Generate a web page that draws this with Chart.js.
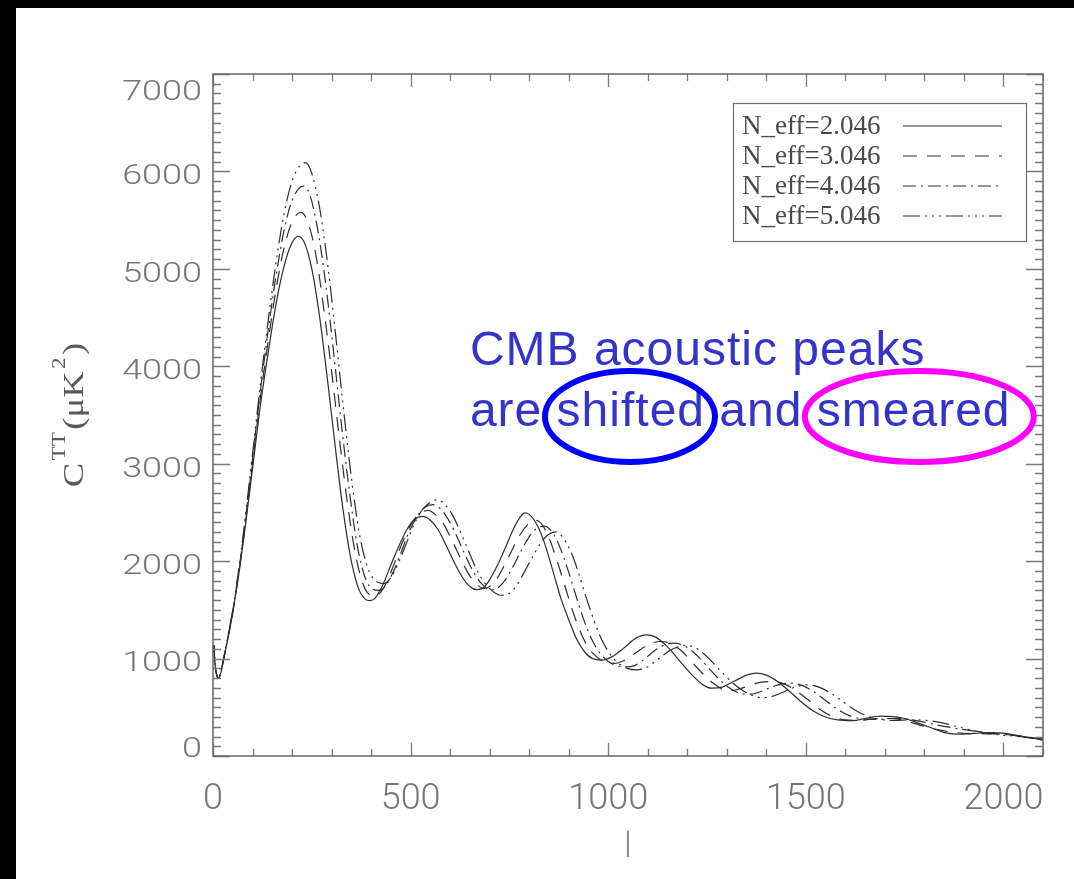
<!DOCTYPE html>
<html>
<head>
<meta charset="utf-8">
<title>CMB TT spectrum vs N_eff</title>
<script src="https://cdn.jsdelivr.net/npm/chart.js@4.4.1/dist/chart.umd.min.js"></script>
<style>
  html, body { margin: 0; padding: 0; width: 1074px; height: 879px; overflow: hidden; background: #000; }
  #wrap { position: absolute; left: 16px; top: 8px; width: 1058px; height: 871px; background: #fff; }
  canvas { display: block; }
</style>
</head>
<body>
<div id="wrap"><canvas id="cmb" width="1058" height="871"></canvas></div>
<script>
// Multipole l and C_l^TT (uK^2) for each effective neutrino number.
const nEff2046 = [[2,1140],[5,950],[10,820],[14,800],[20,860],[30,1050],[40,1250],[50,1470],[68,1940],[80,2300],[100,2950],[120,3600],[140,4150],[160,4650],[180,5030],[200,5270],[215,5334],[230,5280],[250,5000],[270,4500],[290,3850],[310,3150],[330,2500],[350,2000],[370,1700],[385,1610],[397,1595],[410,1620],[430,1760],[450,1960],[470,2150],[490,2320],[510,2430],[531,2460],[550,2420],[570,2320],[590,2160],[610,1990],[630,1840],[650,1740],[667,1707],[685,1730],[700,1810],[720,1960],[740,2140],[760,2330],[775,2440],[789,2495],[800,2480],[820,2370],[840,2170],[860,1900],[880,1620],[900,1400],[920,1200],[940,1070],[960,1000],[985,985],[1010,1020],[1040,1110],[1070,1210],[1097,1244],[1120,1220],[1150,1120],[1180,980],[1210,840],[1240,730],[1261,696],[1290,710],[1320,770],[1350,830],[1375,850],[1400,830],[1430,760],[1460,660],[1490,550],[1520,460],[1550,400],[1580,370],[1619,363],[1650,385],[1690,410],[1720,405],[1750,385],[1790,330],[1820,285],[1850,240],[1880,225],[1910,228],[1940,236],[1970,240],[2000,235],[2030,215],[2060,195],[2100,175]];
const nEff3046 = [[2,1140],[5,950],[10,820],[14,800],[20,860],[30,1055],[40,1260],[50,1480],[68,1960],[80,2330],[100,3000],[120,3680],[140,4270],[160,4800],[180,5220],[200,5480],[222,5580],[240,5480],[260,5150],[280,4600],[300,3950],[320,3250],[340,2600],[360,2080],[380,1760],[395,1660],[409,1645],[422,1670],[440,1790],[460,1990],[480,2200],[500,2370],[520,2480],[545,2520],[565,2470],[585,2370],[605,2210],[625,2040],[645,1880],[665,1770],[685,1720],[700,1740],[715,1800],[735,1940],[755,2100],[775,2260],[795,2370],[813,2420],[830,2390],[850,2240],[870,2010],[890,1750],[910,1490],[930,1270],[950,1110],[970,1020],[990,970],[1015,950],[1040,980],[1070,1060],[1100,1140],[1130,1175],[1155,1160],[1185,1080],[1215,950],[1245,820],[1275,720],[1299,670],[1325,680],[1355,720],[1385,755],[1416,765],[1445,740],[1475,670],[1505,580],[1535,480],[1565,410],[1600,370],[1640,365],[1680,385],[1720,385],[1760,350],[1800,305],[1840,265],[1880,240],[1920,230],[1960,228],[2000,222],[2040,205],[2070,185],[2100,165]];
const nEff4046 = [[2,1140],[5,950],[10,820],[14,800],[20,865],[30,1060],[40,1270],[50,1490],[68,1980],[80,2360],[100,3050],[120,3750],[140,4380],[160,4940],[180,5400],[200,5700],[228,5850],[245,5760],[265,5400],[285,4850],[305,4150],[325,3400],[345,2720],[365,2160],[385,1830],[405,1710],[421,1700],[435,1740],[455,1880],[475,2080],[495,2290],[515,2450],[535,2550],[556,2580],[575,2540],[595,2430],[615,2270],[635,2090],[655,1920],[675,1790],[690,1730],[707,1705],[722,1730],[740,1810],[760,1950],[780,2110],[800,2250],[820,2340],[838,2360],[858,2300],[878,2140],[898,1910],[918,1650],[938,1400],[958,1200],[978,1060],[1000,970],[1020,930],[1044,915],[1065,925],[1090,990],[1120,1090],[1145,1145],[1165,1158],[1190,1135],[1220,1050],[1250,920],[1280,790],[1310,690],[1337,640],[1360,635],[1385,660],[1415,710],[1440,740],[1460,748],[1490,725],[1520,660],[1550,570],[1580,480],[1610,415],[1645,380],[1680,375],[1715,385],[1750,380],[1790,355],[1830,320],[1870,290],[1910,265],[1950,245],[1990,225],[2030,210],[2065,190],[2100,165]];
const nEff5046 = [[2,1140],[5,950],[10,820],[14,800],[20,870],[30,1065],[40,1280],[50,1500],[68,2000],[80,2390],[100,3100],[120,3820],[140,4480],[160,5080],[180,5570],[200,5900],[220,6060],[234,6090],[250,5980],[270,5620],[290,5050],[310,4330],[330,3570],[350,2860],[370,2290],[390,1950],[410,1800],[433,1770],[450,1830],[470,1990],[490,2190],[510,2390],[530,2530],[548,2600],[566,2630],[585,2590],[605,2480],[625,2310],[645,2120],[665,1930],[685,1790],[705,1700],[728,1650],[748,1665],[768,1750],[788,1890],[808,2040],[828,2180],[848,2270],[866,2300],[884,2250],[904,2110],[924,1890],[944,1630],[964,1390],[984,1190],[1004,1050],[1025,955],[1048,900],[1072,885],[1097,910],[1125,990],[1155,1080],[1180,1125],[1198,1135],[1225,1100],[1255,1000],[1285,870],[1315,750],[1345,660],[1372,610],[1392,598],[1415,612],[1445,660],[1475,710],[1505,730],[1535,705],[1565,640],[1595,555],[1625,470],[1655,410],[1690,375],[1725,365],[1765,372],[1805,365],[1845,340],[1885,300],[1925,260],[1965,230],[2005,212],[2045,198],[2075,180],[2100,165]];

const seriesLabels = ['N_eff=2.046', 'N_eff=3.046', 'N_eff=4.046', 'N_eff=5.046'];
const seriesData = [nEff2046, nEff3046, nEff4046, nEff5046];
const seriesDash = [[], [14, 10], [13, 5, 2, 5], [17, 5, 2, 5, 2, 5, 2, 5]];

const xRange = [0, 2100];
const yRange = [0, 7000];
const xTickValues = [0, 500, 1000, 1500, 2000];
const yTickValues = [0, 1000, 2000, 3000, 4000, 5000, 6000, 7000];
const xMinorStep = 100, xMajorStep = 500;
const yMinorStep = 100, yMajorStep = 1000;

const noteLines = ['CMB acoustic peaks', 'are shifted and smeared'];
const noteAnchor = { l: 650, c1: 4013, c2: 3387 };   // text start and baselines, in data units
const noteRings = [
  { l: 1055, c: 3485, rx: 85, ry: 45.5, color: '#0000ff' },
  { l: 1787, c: 3485, rx: 114.5, ry: 45.5, color: '#ff00ff' }
];

const tickFont = '300 36px Roboto, "Liberation Sans", sans-serif';
const tickColor = '#767676';

// Box frame with inward major/minor ticks on all four sides.
const frameTicks = {
  id: 'frameTicks',
  afterDatasetsDraw(chart) {
    const { ctx, chartArea: a, scales: { x, y } } = chart;
    ctx.save();
    ctx.strokeStyle = '#7a7a7a';
    ctx.lineWidth = 1.3;
    ctx.beginPath();
    for (let v = xRange[0]; v <= xRange[1]; v += xMinorStep) {
      const px = Math.round(x.getPixelForValue(v)) + 0.5;
      const len = v % xMajorStep === 0 ? 13 : 7;
      ctx.moveTo(px, a.bottom); ctx.lineTo(px, a.bottom - len);
      ctx.moveTo(px, a.top); ctx.lineTo(px, a.top + len);
    }
    for (let v = yRange[0]; v <= yRange[1]; v += yMinorStep) {
      const py = Math.round(y.getPixelForValue(v)) + 0.5;
      const len = v % yMajorStep === 0 ? 17 : 8;
      ctx.moveTo(a.left, py); ctx.lineTo(a.left + len, py);
      ctx.moveTo(a.right, py); ctx.lineTo(a.right - len, py);
    }
    ctx.stroke();
    ctx.strokeStyle = '#666';
    ctx.lineWidth = 1.5;
    ctx.strokeRect(a.left, a.top, a.right - a.left, a.bottom - a.top);
    ctx.restore();
  }
};

// Y tick labels, drawn slightly flattened; end labels are nudged inside the axis span.
const yTickLabels = {
  id: 'yTickLabels',
  afterDraw(chart) {
    const { ctx, chartArea: a, scales: { y } } = chart;
    ctx.save();
    ctx.fillStyle = tickColor;
    ctx.font = tickFont;
    ctx.textAlign = 'right';
    ctx.textBaseline = 'alphabetic';
    y.ticks.forEach(t => {
      let cy = y.getPixelForValue(t.value) + 3;
      if (t.value === y.max) cy += 13;
      if (t.value === y.min) cy -= 12;
      ctx.save();
      ctx.translate(a.left - 11, cy);
      ctx.scale(1, 0.77);
      ctx.fillText(String(t.value), 0, 12.8);
      ctx.restore();
    });
    ctx.restore();
  }
};

// Rotated y-axis title C^TT(uK^2) with raised exponents.
const yAxisTitle = {
  id: 'yAxisTitle',
  afterDraw(chart) {
    const { ctx, chartArea: a } = chart;
    const parts = [
      { t: 'C', size: 30, rise: 0 },
      { t: 'TT', size: 19, rise: 18, gap: 2 },
      { t: '(', size: 30, rise: 0 },
      { t: '\u03BC', size: 30, rise: 0 },
      { t: 'K', size: 30, rise: 0 },
      { t: '2', size: 19, rise: 18, gap: 2 },
      { t: ')', size: 30, rise: 0 }
    ];
    ctx.save();
    ctx.fillStyle = '#5a5a5a';
    ctx.textBaseline = 'alphabetic';
    const fam = '"Liberation Serif", "DejaVu Serif", serif';
    let total = 0;
    parts.forEach(p => {
      ctx.font = p.size + 'px ' + fam;
      p.w = ctx.measureText(p.t).width + (p.gap || 0) * 2;
      total += p.w;
    });
    const stretch = 1.22;
    ctx.translate(a.left - 130, (a.top + a.bottom) / 2);
    ctx.rotate(-Math.PI / 2);
    ctx.scale(stretch, 1);
    let cx = -total / 2;
    parts.forEach(p => {
      ctx.font = p.size + 'px ' + fam;
      ctx.fillText(p.t, cx + (p.gap || 0), -p.rise);
      cx += p.w;
    });
    ctx.restore();
  }
};

// Framed legend: label text on the left, line sample on the right.
const legendBox = {
  id: 'legendBox',
  afterDraw(chart) {
    const { ctx, chartArea: a } = chart;
    const w = 293, h = 138;
    const left = a.right - 17 - w, top = a.top + 29;
    ctx.save();
    ctx.fillStyle = '#fff';
    ctx.fillRect(left, top, w, h);
    ctx.strokeStyle = '#6e6e6e';
    ctx.lineWidth = 1.2;
    ctx.strokeRect(left + 0.5, top + 0.5, w, h);
    ctx.font = '27px "Liberation Serif", "DejaVu Serif", serif';
    ctx.fillStyle = '#4a4a4a';
    ctx.textBaseline = 'alphabetic';
    chart.data.datasets.forEach((ds, i) => {
      const base = top + 31 + 30 * i;
      ctx.fillText(ds.label, left + 9, base);
      ctx.save();
      ctx.strokeStyle = ds.borderColor;
      ctx.lineWidth = ds.borderWidth;
      ctx.setLineDash(ds.borderDash);
      ctx.beginPath();
      ctx.moveTo(left + 170, base - 8);
      ctx.lineTo(left + 269, base - 8);
      ctx.stroke();
      ctx.restore();
    });
    ctx.restore();
  }
};

// Blue annotation with ringed words.
const peakNote = {
  id: 'peakNote',
  afterDraw(chart) {
    const { ctx, scales: { x, y } } = chart;
    ctx.save();
    ctx.fillStyle = '#3434cc';
    ctx.font = '48px "Liberation Sans", Arial, sans-serif';
    ctx.textBaseline = 'alphabetic';
    if ('letterSpacing' in ctx) ctx.letterSpacing = '1px';
    const tx = x.getPixelForValue(noteAnchor.l);
    ctx.fillText(noteLines[0], tx, y.getPixelForValue(noteAnchor.c1));
    ctx.fillText(noteLines[1], tx, y.getPixelForValue(noteAnchor.c2));
    ctx.lineWidth = 6;
    noteRings.forEach(r => {
      ctx.strokeStyle = r.color;
      ctx.beginPath();
      ctx.ellipse(x.getPixelForValue(r.l), y.getPixelForValue(r.c), r.rx, r.ry, 0, 0, Math.PI * 2);
      ctx.stroke();
    });
    ctx.restore();
  }
};

const datasets = seriesData.map((pts, i) => ({
  label: seriesLabels[i],
  data: pts.map(([l, c]) => ({ x: l, y: c })),
  borderColor: '#2e2e2e',
  borderWidth: 1.2,
  borderDash: seriesDash[i],
  pointRadius: 0,
  fill: false,
  cubicInterpolationMode: 'monotone'
}));

new Chart(document.getElementById('cmb'), {
  type: 'line',
  data: { datasets },
  options: {
    responsive: false,
    animation: false,
    layout: { padding: { top: 66, right: 31, bottom: 0, left: 0 } },
    plugins: { legend: { display: false }, tooltip: { enabled: false } },
    scales: {
      x: {
        type: 'linear',
        min: xRange[0],
        max: xRange[1],
        grid: { display: false, drawTicks: false },
        border: { display: false },
        afterBuildTicks: s => { s.ticks = xTickValues.map(v => ({ value: v })); },
        afterFit: s => { s.height = 123; },
        ticks: {
          callback: v => String(v),
          color: tickColor,
          font: { family: 'Roboto, "Liberation Sans", sans-serif', size: 36, weight: 300 },
          padding: 22,
          maxRotation: 0
        },
        title: {
          display: true,
          text: 'l',
          color: '#8a8a8a',
          font: { family: 'Roboto, "Liberation Sans", sans-serif', size: 35, weight: 300 },
          padding: { top: 0, bottom: 10 }
        }
      },
      y: {
        type: 'linear',
        min: yRange[0],
        max: yRange[1],
        grid: { display: false, drawTicks: false },
        border: { display: false },
        afterBuildTicks: s => { s.ticks = yTickValues.map(v => ({ value: v })); },
        afterFit: s => { s.width = 197; },
        ticks: { display: false }
      }
    }
  },
  plugins: [frameTicks, yTickLabels, yAxisTitle, legendBox, peakNote]
});
</script>
</body>
</html>
